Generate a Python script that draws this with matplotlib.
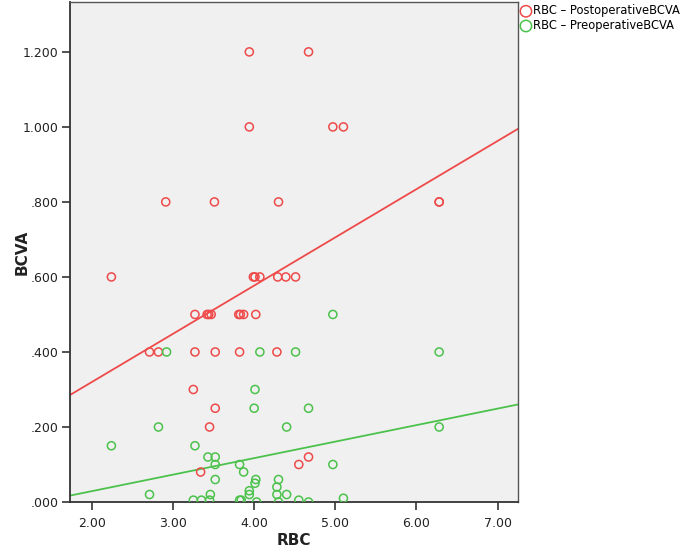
import numpy as np
import matplotlib
matplotlib.use("Agg")
import matplotlib.pyplot as plt
from matplotlib.ticker import FuncFormatter

# -----------------------------
# DATA
# -----------------------------
post_rbc = [3.94, 4.67, 3.94, 4.97, 5.10,
            2.91, 3.51, 4.30, 6.28, 6.28,
            2.24, 3.99, 4.01, 4.07, 4.29, 4.39, 4.51,
            3.27, 3.42, 3.44, 3.47, 3.81, 3.83, 3.87, 4.02,
            2.71, 2.82, 3.27, 3.52, 3.82, 4.28,
            3.25, 3.52, 3.45, 4.67, 4.55, 3.34]
post_bcva = [1.2, 1.2, 1.0, 1.0, 1.0,
             0.8, 0.8, 0.8, 0.8, 0.8,
             0.6, 0.6, 0.6, 0.6, 0.6, 0.6, 0.6,
             0.5, 0.5, 0.5, 0.5, 0.5, 0.5, 0.5, 0.5,
             0.4, 0.4, 0.4, 0.4, 0.4, 0.4,
             0.3, 0.25, 0.2, 0.12, 0.10, 0.08]

pre_rbc = [4.97,
           2.92, 4.07, 4.51, 6.28,
           4.01, 4.00, 4.67,
           2.82, 4.40, 6.28,
           2.24, 3.27, 3.43, 3.52,
           3.52, 3.82, 4.97, 3.87,
           3.52, 4.02, 4.30, 4.01, 4.28, 3.94,
           2.71, 3.46, 3.94, 4.28, 4.40, 5.10,
           3.25, 3.35, 3.45, 3.82, 3.84, 4.03, 4.30, 4.55, 4.67]
pre_bcva = [0.5,
            0.4, 0.4, 0.4, 0.4,
            0.3, 0.25, 0.25,
            0.2, 0.2, 0.2,
            0.15, 0.15, 0.12, 0.12,
            0.10, 0.10, 0.10, 0.08,
            0.06, 0.06, 0.06, 0.05, 0.04, 0.03,
            0.02, 0.02, 0.02, 0.02, 0.02, 0.01,
            0.005, 0.005, 0.005, 0.005, 0.005, 0.0, 0.0, 0.005, 0.0]

# fit lines (intercept, slope)
post_fit = (0.063, 0.1285)
pre_fit = (-0.059, 0.044)

x_ticks = [2, 3, 4, 5, 6, 7]
y_ticks = [0.0, 0.2, 0.4, 0.6, 0.8, 1.0, 1.2]

red = "#ee4a4a"
green = "#4cc24c"

# -----------------------------
# PLOT
# -----------------------------
fig = plt.figure(figsize=(6.85, 5.51), dpi=100)
ax = fig.add_axes([0.1022, 0.0889, 0.6538, 0.9075])
ax.set_facecolor("#f0f0f0")

ax.scatter(post_rbc, post_bcva, s=34, facecolors="none", edgecolors=red,
           linewidths=1.1, label="RBC \u2013 PostoperativeBCVA", zorder=3)
ax.scatter(pre_rbc, pre_bcva, s=34, facecolors="none", edgecolors=green,
           linewidths=1.1, label="RBC \u2013 PreoperativeBCVA", zorder=3)

xlim = (1.73, 7.25)
xs = np.array(xlim)
ax.plot(xs, post_fit[0] + post_fit[1] * xs, color=red, lw=1.3, zorder=2)
ax.plot(xs, pre_fit[0] + pre_fit[1] * xs, color=green, lw=1.3, zorder=2)

ax.set_xlim(*xlim)
ax.set_ylim(0.0, 1.333)
ax.set_xticks(x_ticks)
ax.set_yticks(y_ticks)
ax.xaxis.set_major_formatter(FuncFormatter(lambda v, p: f"{v:.2f}"))
ax.yaxis.set_major_formatter(FuncFormatter(lambda v, p: f"{v:.3f}".lstrip("0")))
ax.tick_params(direction="out", length=6, width=1.2, color="#333333",
               labelsize=9, labelcolor="#222222", pad=2)
ax.tick_params(axis="x", pad=5)

for side in ["left", "bottom"]:
    ax.spines[side].set_color("#333333")
    ax.spines[side].set_linewidth(1.3)
for side in ["top", "right"]:
    ax.spines[side].set_color("#555555")
    ax.spines[side].set_linewidth(1.0)

ax.set_xlabel("RBC", fontsize=11, fontweight="bold", color="#222222", labelpad=2)
ax.set_ylabel("BCVA", fontsize=11, fontweight="bold", color="#222222", labelpad=-5)

leg = ax.legend(loc="upper left", bbox_to_anchor=(1.0, 1.0), frameon=False,
                fontsize=8.3, handletextpad=0.1, borderaxespad=0, labelspacing=0.15,
                markerscale=1.4, handlelength=1.0, borderpad=0.2)

plt.savefig("out.png", dpi=100)
